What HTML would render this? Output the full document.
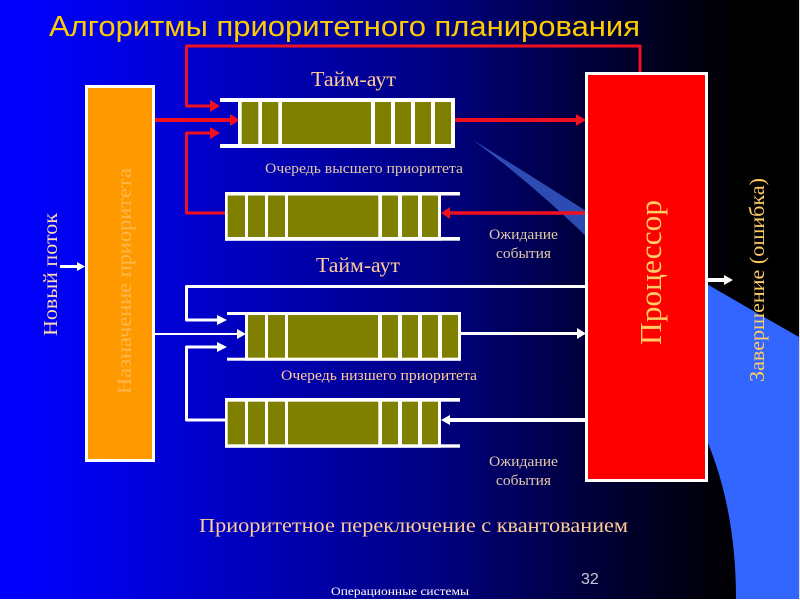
<!DOCTYPE html>
<html><head><meta charset="utf-8"><style>
html,body{margin:0;padding:0;background:#000}
svg{display:block}
text{font-family:"Liberation Serif","Noto Serif CJK SC",serif}
</style></head><body>
<svg width="800" height="600" viewBox="0 0 800 600" xmlns="http://www.w3.org/2000/svg">
<defs><linearGradient id="bg" x1="0" x2="1" y1="0" y2="0">
<stop offset="0" stop-color="#0000ff"/><stop offset="0.1" stop-color="#0000f0"/><stop offset="0.55" stop-color="#000080"/><stop offset="0.72" stop-color="#000040"/><stop offset="0.92" stop-color="#000000"/><stop offset="1" stop-color="#000"/></linearGradient></defs>
<rect width="800" height="600" fill="url(#bg)"/>
<path d="M473 140 Q530 175 600 220 L600 250 Q540 190 473 140Z" fill="#2c4cb4"/>
<path d="M700 280 Q760 315 799 337 L799 599 L736 599 Q736 500 700 425Z" fill="#3366ff"/>
<rect x="799" y="0" width="1" height="600" fill="#dde"/><rect x="0" y="599" width="800" height="1" fill="#fff"/>

<g fill="none" stroke="#f01020" stroke-linejoin="round">
<path d="M640 73V46H186.500V106H212" stroke-width="3"/>
<path d="M212 133H186.500V213H228" stroke-width="3"/>
<path d="M153 120H232" stroke-width="4"/>
<path d="M453 120H578" stroke-width="4"/>
<path d="M586 213H448" stroke-width="3.500"/>
</g>
<g fill="#f01020">
<path d="M210 100L220 106L210 112Z"/><path d="M210 127L220 133L210 139Z"/>
<path d="M230 114L240 120L230 126Z"/><path d="M576 114L586 120L576 126Z"/>
<path d="M450 207L441 213L450 219Z"/>
</g>
<g fill="none" stroke="#fff" stroke-linejoin="round">
<path d="M586 286.500H186.500V320H218" stroke-width="3"/>
<path d="M218 347H186.500V420H228" stroke-width="3"/>
<path d="M155 334H238" stroke-width="2"/>
<path d="M460 333.500H578" stroke-width="3"/>
<path d="M586 420H448" stroke-width="4"/>
<path d="M708 280H725" stroke-width="4"/>
<path d="M60 266.500H78" stroke-width="3"/>
</g>
<g fill="#fff">
<path d="M217 315L227 320L217 325Z"/><path d="M217 342L227 347L217 352Z"/>
<path d="M237 329L246 334L237 339Z"/><path d="M577 328L586 333.500L577 339Z"/>
<path d="M450 415L441 420L450 425Z"/><path d="M724 275L733 280L724 285Z"/>
<path d="M77 262L85 266.500L77 271Z"/>
</g>

<g fill="#fff"><rect x="220" y="98" width="235" height="4"/><rect x="220" y="144" width="235" height="4"/><rect x="238" y="98" width="217" height="50"/></g>
<g fill="#808000"><rect x="241.700" y="102" width="16.600" height="42"/><rect x="262" y="102" width="16.300" height="42"/><rect x="282" y="102" width="89" height="42"/><rect x="375" y="102" width="16" height="42"/><rect x="395" y="102" width="16" height="42"/><rect x="415" y="102" width="16" height="42"/><rect x="435" y="102" width="16" height="42"/></g>
<g fill="#fff"><rect x="225" y="192" width="235" height="3.500"/><rect x="225" y="237" width="235" height="3.700"/><rect x="225" y="192" width="216" height="48.700"/></g>
<g fill="#808000"><rect x="227.700" y="195.500" width="17.300" height="41.500"/><rect x="248" y="195.500" width="17" height="41.500"/><rect x="268" y="195.500" width="17" height="41.500"/><rect x="288" y="195.500" width="90.300" height="41.500"/><rect x="382" y="195.500" width="16" height="41.500"/><rect x="402" y="195.500" width="16" height="41.500"/><rect x="422" y="195.500" width="16" height="41.500"/></g>
<g fill="#fff"><rect x="227" y="312" width="234" height="3"/><rect x="227" y="357.700" width="234" height="3"/><rect x="245" y="312" width="216" height="48.700"/></g>
<g fill="#808000"><rect x="248" y="315" width="17" height="42.700"/><rect x="268" y="315" width="17" height="42.700"/><rect x="288" y="315" width="90" height="42.700"/><rect x="382" y="315" width="16" height="42.700"/><rect x="402" y="315" width="16" height="42.700"/><rect x="422" y="315" width="16" height="42.700"/><rect x="442" y="315" width="16" height="42.700"/></g>
<g fill="#fff"><rect x="225" y="398" width="235" height="3.700"/><rect x="225" y="444.300" width="235" height="3.400"/><rect x="225" y="398" width="216" height="49.700"/></g>
<g fill="#808000"><rect x="227.700" y="401.700" width="17.300" height="42.600"/><rect x="248" y="401.700" width="17" height="42.600"/><rect x="268" y="401.700" width="17" height="42.600"/><rect x="288" y="401.700" width="90.300" height="42.600"/><rect x="382" y="401.700" width="16" height="42.600"/><rect x="402" y="401.700" width="16" height="42.600"/><rect x="422" y="401.700" width="16" height="42.600"/></g>

<rect x="86.500" y="86.500" width="67" height="374" fill="#ff9900" stroke="#fff" stroke-width="3"/>
<rect x="586.500" y="73.500" width="120" height="407" fill="#ff0000" stroke="#fff" stroke-width="3"/>

<text x="49" y="36" font-size="28.500" fill="#ffcc00" textLength="591" lengthAdjust="spacingAndGlyphs" style="font-family:'Liberation Sans','Noto Sans CJK SC',sans-serif">Алгоритмы приоритетного планирования</text>
<text x="311" y="86" font-size="21" fill="#ffcc99" textLength="85" lengthAdjust="spacingAndGlyphs">Тайм-аут</text>
<text x="316" y="272" font-size="21" fill="#ffcc99" textLength="84" lengthAdjust="spacingAndGlyphs">Тайм-аут</text>
<text x="265" y="173" font-size="15" fill="#e0c8a8" textLength="198" lengthAdjust="spacingAndGlyphs">Очередь высшего приоритета</text>
<text x="281" y="380" font-size="15" fill="#ffcc99" textLength="196" lengthAdjust="spacingAndGlyphs">Очередь низшего приоритета</text>
<g font-size="15" fill="#e0c8a8">
<text x="489" y="239" textLength="69" lengthAdjust="spacingAndGlyphs">Ожидание</text><text x="496" y="258" textLength="55" lengthAdjust="spacingAndGlyphs">события</text>
<text x="489" y="466" textLength="69" lengthAdjust="spacingAndGlyphs">Ожидание</text><text x="496" y="485" textLength="55" lengthAdjust="spacingAndGlyphs">события</text>
</g>
<text x="199" y="532" font-size="20.500" fill="#ffcc99" textLength="429" lengthAdjust="spacingAndGlyphs">Приоритетное переключение с квантованием</text>
<text transform="translate(661 345) rotate(-90)" font-size="31" fill="#ffcc66" textLength="145" lengthAdjust="spacingAndGlyphs">Процессор</text>
<text transform="translate(131 394) rotate(-90)" font-size="20.500" fill="#ffb84d" textLength="226" lengthAdjust="spacingAndGlyphs">Назначение приоритета</text>
<text transform="translate(57 336) rotate(-90)" font-size="19.500" fill="#ffd9b3" textLength="123" lengthAdjust="spacingAndGlyphs">Новый поток</text>
<text transform="translate(764 382) rotate(-90)" font-size="21" fill="#ffcc66" textLength="204" lengthAdjust="spacingAndGlyphs">Завершение (ошибка)</text>
<text x="581" y="584" font-size="16" fill="#c8c8d8" style="font-family:'Liberation Sans',sans-serif">32</text>
<text x="331" y="595" font-size="12" fill="#ffffff" textLength="138" lengthAdjust="spacingAndGlyphs">Операционные системы</text>
</svg>
</body></html>
